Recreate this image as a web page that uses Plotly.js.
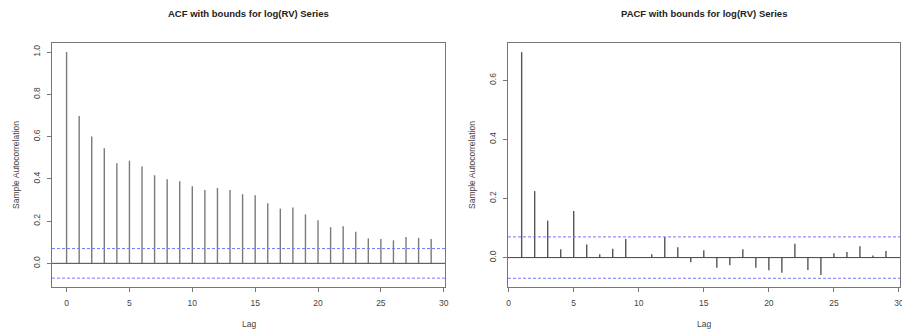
<!DOCTYPE html>
<html><head><meta charset="utf-8">
<script src="https://cdn.plot.ly/plotly-3.0.1.min.js"></script>
<style>html,body{margin:0;padding:0;background:#fff}#c{width:902px;height:331px}</style>
</head><body><div id="c"></div>
<script>
var acfLags = [0,1,2,3,4,5,6,7,8,9,10,11,12,13,14,15,16,17,18,19,20,21,22,23,24,25,26,27,28,29];
var acfValues = [1.0,0.698,0.600,0.545,0.474,0.486,0.458,0.417,0.398,0.389,0.365,0.347,0.357,0.347,0.327,0.322,0.284,0.259,0.264,0.232,0.204,0.171,0.175,0.150,0.118,0.115,0.109,0.125,0.121,0.115];
var pacfLags = [1,2,3,4,5,6,7,8,9,10,11,12,13,14,15,16,17,18,19,20,21,22,23,24,25,26,27,28,29];
var pacfValues = [0.695,0.225,0.125,0.028,0.158,0.044,0.011,0.030,0.063,0.002,0.011,0.070,0.035,-0.016,0.025,-0.034,-0.026,0.028,-0.034,-0.043,-0.051,0.047,-0.042,-0.059,0.015,0.019,0.038,0.007,0.022];
var acfBound = 0.070;
var pacfBound = 0.070;
var xTicks = [0,5,10,15,20,25,30];
var acfYTicks = [0,0.2,0.4,0.6,0.8,1.0];
var acfYTickText = ['0.0','0.2','0.4','0.6','0.8','1.0'];
var pacfYTicks = [0,0.2,0.4,0.6];
var pacfYTickText = ['0.0','0.2','0.4','0.6'];
var titles = ['ACF with bounds for log(RV) Series','PACF with bounds for log(RV) Series'];

function spikes(lags, vals, xa, ya, color){
  var x=[], y=[];
  for (var i=0;i<lags.length;i++){ x.push(lags[i],lags[i],null); y.push(0,vals[i],null); }
  return {x:x,y:y,xaxis:xa,yaxis:ya,type:'scatter',mode:'lines',line:{color:color,width:1.4},hoverinfo:'skip',showlegend:false,cliponaxis:false};
}
var W=902,H=331;
var d1=[52/W,445/W], d2=[508/W,900/W], dy=[(H-287)/H,(H-43)/H];
var tickFont={family:'Liberation Sans, Arial, sans-serif',size:8.5,color:'#444'};
function xax(dom, anchor, range){
  return {domain:dom,anchor:anchor,range:range,tickvals:xTicks,ticks:'outside',ticklen:4,tickcolor:'#777',
    showline:true,mirror:true,linecolor:'#777',linewidth:1,showgrid:false,zeroline:false,tickfont:tickFont,ticklabelstandoff:4,
    ticklabeloverflow:'allow'};
}
function yax(dom, anchor, range, tv, tt){
  return {domain:dom,anchor:anchor,range:range,tickvals:tv,ticktext:tt,tickangle:-90,ticks:'outside',ticklen:4,tickcolor:'#777',
    showline:true,mirror:true,linecolor:'#777',linewidth:1,showgrid:false,zeroline:false,tickfont:tickFont,ticklabelstandoff:4};
}
var data=[spikes(acfLags,acfValues,'x','y','#7a7a7a'), spikes(pacfLags,pacfValues,'x2','y2','#555')];
var shapes=[];
function hline(xr, yr, yv, color, dash){
  shapes.push({type:'line',xref:xr+' domain',yref:yr,x0:0,x1:1,y0:yv,y1:yv,line:{color:color,width:1,dash:dash}});
}
hline('x','y',0,'#444','solid');
hline('x','y',acfBound,'#7777ff','3px,2px');
hline('x','y',-acfBound,'#7777ff','3px,2px');
hline('x2','y2',0,'#444','solid');
hline('x2','y2',pacfBound,'#7777ff','3px,2px');
hline('x2','y2',-pacfBound,'#7777ff','3px,2px');
var lblFont={family:'Liberation Sans, Arial, sans-serif',size:8.5,color:'#444'};
var ttlFont={family:'Liberation Sans, Arial, sans-serif',size:9.5,color:'#222',weight:'bold'};
var ann=[
  {text:'<b>'+titles[0]+'</b>',xref:'paper',yref:'paper',x:(d1[0]+d1[1])/2,y:(H-14)/H,showarrow:false,font:ttlFont,xanchor:'center',yanchor:'middle'},
  {text:'<b>'+titles[1]+'</b>',xref:'paper',yref:'paper',x:(d2[0]+d2[1])/2,y:(H-14)/H,showarrow:false,font:ttlFont,xanchor:'center',yanchor:'middle'},
  {text:'Lag',xref:'paper',yref:'paper',x:(d1[0]+d1[1])/2,y:(H-324)/H,showarrow:false,font:lblFont,xanchor:'center',yanchor:'middle'},
  {text:'Lag',xref:'paper',yref:'paper',x:(d2[0]+d2[1])/2,y:(H-324)/H,showarrow:false,font:lblFont,xanchor:'center',yanchor:'middle'},
  {text:'Sample Autocorrelation',xref:'paper',yref:'paper',x:16/W,y:(dy[0]+dy[1])/2,textangle:-90,showarrow:false,font:lblFont,xanchor:'center',yanchor:'middle'},
  {text:'Sample Autocorrelation',xref:'paper',yref:'paper',x:472/W,y:(dy[0]+dy[1])/2,textangle:-90,showarrow:false,font:lblFont,xanchor:'center',yanchor:'middle'}
];
var layout={width:W,height:H,margin:{l:0,r:0,t:0,b:0},paper_bgcolor:'#fff',plot_bgcolor:'#fff',showlegend:false,
  xaxis:xax(d1,'y',[-1.16,30.1]), yaxis:yax(dy,'x',[-0.112,1.043],acfYTicks,acfYTickText),
  xaxis2:xax(d2,'y2',[-0.05,30.08]), yaxis2:yax(dy,'x2',[-0.0995,0.726],pacfYTicks,pacfYTickText),
  shapes:shapes, annotations:ann};
Plotly.newPlot('c',data,layout,{displayModeBar:false,staticPlot:true});
</script></body></html>
